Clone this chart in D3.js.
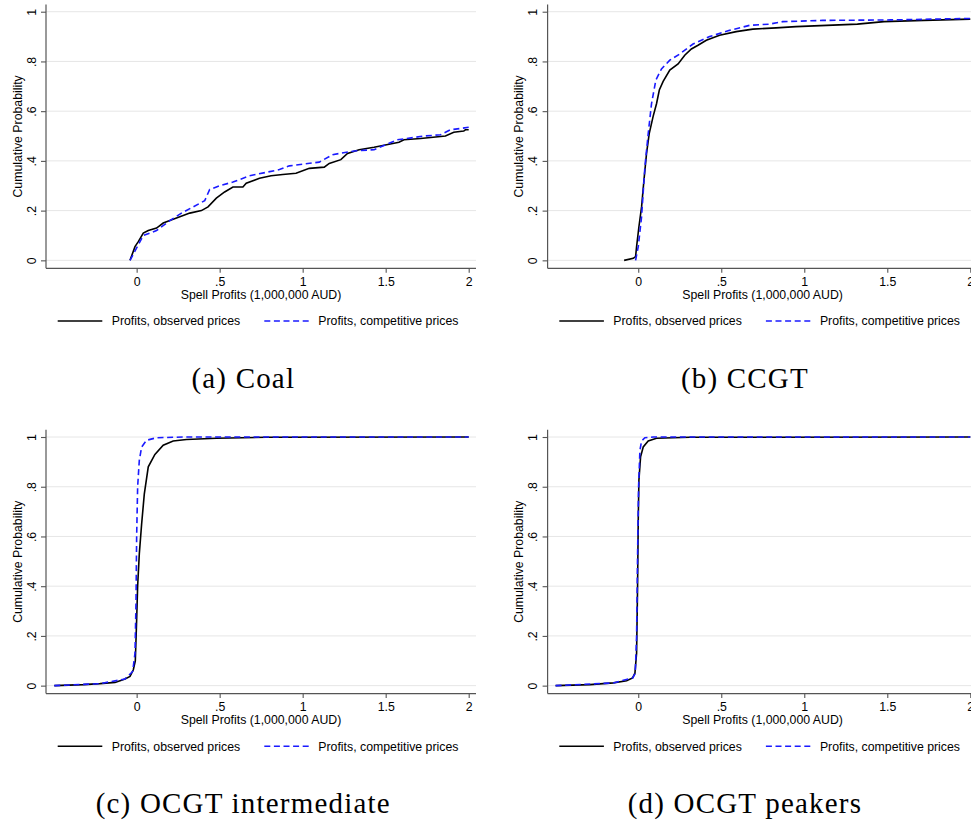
<!DOCTYPE html>
<html>
<head>
<meta charset="utf-8">
<script src="https://cdn.jsdelivr.net/npm/d3@7"></script>
<style>
  body { margin: 0; background: #fff; }
  svg { display: block; }
</style>
</head>
<body>
<div id="chart"></div>
<script>
// Axis ticks and labels
const xTicks = [0, 0.5, 1, 1.5, 2];
const yTicks = [0, 0.2, 0.4, 0.6, 0.8, 1];
const seriesNames = ["Profits, observed prices", "Profits, competitive prices"];
const captions = ["(a) Coal", "(b) CCGT", "(c) OCGT intermediate", "(d) OCGT peakers"];
const xTitle = "Spell Profits (1,000,000 AUD)";
const yTitle = "Cumulative Probability";

// CDF points: [profit, cumulative probability]
const coalObserved = [
    [-0.04, 0], [-0.01, 0.055], [0.01, 0.075], [0.04, 0.11], [0.07, 0.12], [0.12, 0.13],
    [0.16, 0.15], [0.24, 0.17], [0.32, 0.19], [0.39, 0.20], [0.43, 0.215], [0.48, 0.25],
    [0.53, 0.275], [0.58, 0.295], [0.64, 0.295], [0.66, 0.31], [0.74, 0.33], [0.81, 0.34],
    [0.88, 0.345], [0.96, 0.35], [1.04, 0.37], [1.13, 0.375], [1.16, 0.39], [1.23, 0.405],
    [1.27, 0.43], [1.34, 0.445], [1.43, 0.455], [1.58, 0.475], [1.61, 0.485], [1.71, 0.49],
    [1.86, 0.50], [1.91, 0.515], [1.97, 0.52], [1.98, 0.525], [2.0, 0.525]
];
const coalCompetitive = [
    [-0.04, 0], [0.0, 0.05], [0.04, 0.10], [0.12, 0.12], [0.20, 0.16], [0.27, 0.19],
    [0.34, 0.215], [0.41, 0.24], [0.44, 0.285], [0.50, 0.30], [0.58, 0.315], [0.68, 0.34],
    [0.86, 0.365], [0.92, 0.38], [1.10, 0.395], [1.18, 0.425], [1.31, 0.44], [1.43, 0.445],
    [1.57, 0.485], [1.73, 0.50], [1.83, 0.505], [1.89, 0.525], [2.0, 0.535]
];
const ccgtObserved = [
    [-0.085, 0], [-0.03, 0.008], [-0.016, 0.015], [-0.01, 0.055], [0.004, 0.135], [0.02, 0.215],
    [0.034, 0.32], [0.05, 0.43], [0.066, 0.51], [0.09, 0.58], [0.11, 0.63], [0.127, 0.685],
    [0.15, 0.72], [0.19, 0.765], [0.24, 0.79], [0.28, 0.825], [0.32, 0.85], [0.36, 0.865],
    [0.41, 0.885], [0.49, 0.905], [0.59, 0.92], [0.69, 0.93], [0.83, 0.935], [0.95, 0.94],
    [1.32, 0.95], [1.48, 0.96], [1.72, 0.965], [2.0, 0.97]
];
const ccgtCompetitive = [
    [-0.016, 0], [0, 0.055], [0.02, 0.175], [0.04, 0.375], [0.06, 0.51], [0.08, 0.63],
    [0.106, 0.725], [0.14, 0.77], [0.19, 0.805], [0.25, 0.83], [0.33, 0.87], [0.43, 0.90],
    [0.55, 0.925], [0.67, 0.945], [0.79, 0.95], [0.87, 0.96], [1.11, 0.965], [1.52, 0.967],
    [2.0, 0.973]
];
const ocgtIntObserved = [
    [-0.496, 0], [-0.32, 0.004], [-0.22, 0.008], [-0.13, 0.013], [-0.07, 0.027], [-0.04, 0.037],
    [-0.02, 0.064], [-0.008, 0.10], [0, 0.265], [0.006, 0.40], [0.016, 0.53], [0.03, 0.65],
    [0.046, 0.77], [0.07, 0.88], [0.11, 0.93], [0.16, 0.967], [0.22, 0.984], [0.30, 0.99],
    [0.48, 0.995], [0.78, 0.999], [2.0, 1.0]
];
const ocgtIntCompetitive = [
    [-0.496, 0], [-0.22, 0.008], [-0.07, 0.027], [-0.024, 0.057], [-0.01, 0.13], [-0.004, 0.33],
    [0, 0.60], [0.006, 0.80], [0.016, 0.906], [0.03, 0.96], [0.06, 0.987], [0.12, 0.997],
    [0.28, 1.0], [2.0, 1.0]
];
const ocgtPeakObserved = [
    [-0.498, 0], [-0.29, 0.004], [-0.15, 0.011], [-0.07, 0.02], [-0.034, 0.031], [-0.02, 0.05],
    [-0.01, 0.13], [-0.004, 0.40], [0, 0.666], [0.004, 0.826], [0.014, 0.92], [0.03, 0.96],
    [0.06, 0.984], [0.11, 0.995], [0.31, 0.999], [2.0, 1.0]
];
const ocgtPeakCompetitive = [
    [-0.498, 0], [-0.15, 0.011], [-0.034, 0.031], [-0.018, 0.05], [-0.01, 0.2], [-0.004, 0.53],
    [0.002, 0.80], [0.01, 0.946], [0.02, 0.984], [0.04, 0.997], [0.09, 1.0], [2.0, 1.0]
];

const panelSeries = [
    [coalObserved, coalCompetitive],
    [ccgtObserved, ccgtCompetitive],
    [ocgtIntObserved, ocgtIntCompetitive],
    [ocgtPeakObserved, ocgtPeakCompetitive]
];

const width = 971;
const height = 823;
const panelDx = 501.6;
const panelDy = 425.3;
const plot = { left: 46, top: 4.5, width: 430, height: 263.8 };

const sansFont = "'Liberation Sans', Arial, sans-serif";
const serifFont = "'Liberation Serif', 'Times New Roman', serif";
const fontSize = 12.3;
const colors = ["#000000", "#1a1aff"];
const dashes = [null, "6,3.6"];

let svg = d3
    .select("#chart")
    .append("svg")
    .attr("width", width)
    .attr("height", height);

let x = d3.scaleLinear().domain([-0.546, 2.044]).range([0, plot.width]);
let y = d3.scaleLinear().domain([-0.032, 1.029]).range([plot.height, 0]);

const fmt = (d) => (d === 0 ? "0" : String(d).replace(/^0\./, "."));

const line = d3
    .line()
    .x((d) => x(d[0]))
    .y((d) => y(d[1]));

captions.forEach((caption, i) => {
    const col = i % 2;
    const row = Math.floor(i / 2);
    let panel = svg
        .append("g")
        .attr("transform", "translate(" + col * panelDx + "," + row * panelDy + ")");

    let g = panel
        .append("g")
        .attr("transform", "translate(" + plot.left + "," + plot.top + ")");

    // grid lines
    g.append("g")
        .selectAll("line")
        .data(yTicks)
        .enter()
        .append("line")
        .attr("x1", 0)
        .attr("x2", plot.width)
        .attr("y1", (d) => y(d))
        .attr("y2", (d) => y(d))
        .attr("stroke", "#e6e6e6")
        .attr("stroke-width", 1);

    // series
    panelSeries[i].forEach((data, j) => {
        g.append("path")
            .datum(data)
            .attr("fill", "none")
            .attr("stroke", colors[j])
            .attr("stroke-width", 1.6)
            .attr("stroke-dasharray", dashes[j])
            .attr("d", line);
    });

    // axes
    let xAxis = g
        .append("g")
        .attr("transform", "translate(0," + plot.height + ")")
        .call(d3.axisBottom(x).tickValues(xTicks).tickSize(4.5).tickPadding(4).tickFormat(fmt));
    let yAxis = g
        .append("g")
        .call(d3.axisLeft(y).tickValues(yTicks).tickSize(5).tickFormat(fmt));

    [xAxis, yAxis].forEach((a) => {
        a.select(".domain").attr("stroke", "#555").attr("stroke-width", 1.2);
        a.selectAll(".tick line").attr("stroke", "#555").attr("stroke-width", 1.1);
        a.selectAll("text")
            .attr("font-family", sansFont)
            .attr("font-size", fontSize)
            .attr("fill", "#000");
    });
    xAxis.select(".domain").attr("d", "M0,0H" + plot.width);
    yAxis.select(".domain").attr("d", "M0,0V" + plot.height);
    xAxis.selectAll(".tick text").attr("dy", null).attr("y", 286 - plot.top - plot.height);

    // rotated y tick labels
    yAxis.selectAll(".tick text")
        .attr("x", null)
        .attr("dy", null)
        .attr("text-anchor", "middle")
        .attr("transform", "translate(" + (35.5 - plot.left) + ",0) rotate(-90)");

    // axis titles
    panel.append("text")
        .attr("x", plot.left + plot.width / 2)
        .attr("y", 298.5)
        .attr("text-anchor", "middle")
        .attr("font-family", sansFont)
        .attr("font-size", fontSize)
        .text(xTitle);
    panel.append("text")
        .attr("transform", "translate(21.5," + (plot.top + plot.height / 2) + ") rotate(-90)")
        .attr("text-anchor", "middle")
        .attr("font-family", sansFont)
        .attr("font-size", fontSize)
        .text(yTitle);

    // legend
    const legendX = [[57.7, 102.3, 111.7], [264.3, 310, 318.3]];
    seriesNames.forEach((name, j) => {
        panel.append("line")
            .attr("x1", legendX[j][0])
            .attr("x2", legendX[j][1])
            .attr("y1", 321)
            .attr("y2", 321)
            .attr("stroke", colors[j])
            .attr("stroke-width", 1.6)
            .attr("stroke-dasharray", dashes[j]);
        panel.append("text")
            .attr("x", legendX[j][2])
            .attr("y", 325.3)
            .attr("font-family", sansFont)
            .attr("font-size", fontSize)
            .text(name);
    });

    // caption
    panel.append("text")
        .attr("x", 243.3)
        .attr("y", 388)
        .attr("text-anchor", "middle")
        .attr("font-family", serifFont)
        .attr("font-size", 29)
        .attr("letter-spacing", 1.2)
        .text(caption);
});
</script>
</body>
</html>
